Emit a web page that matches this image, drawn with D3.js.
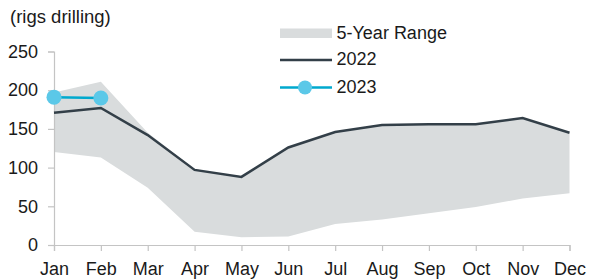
<!DOCTYPE html>
<html>
<head>
<meta charset="utf-8">
<script src="https://cdn.jsdelivr.net/npm/d3@7"></script>
<style>
  body { margin: 0; background: #fff; }
  text { font-family: "Liberation Sans", Arial, sans-serif; fill: #1a1a1a; }
</style>
</head>
<body>
<div id="chart"></div>
<script>
// data
let months = ["Jan", "Feb", "Mar", "Apr", "May", "Jun", "Jul", "Aug", "Sep", "Oct", "Nov", "Dec"]
let rangeHigh = [197, 211, 145, 98, 88, 126, 146, 155, 156, 156, 164, 145]
let rangeLow = [120, 113, 74, 17, 10, 11, 27, 33, 41, 49, 60, 67]
let y2022 = [171, 177, 142, 97, 88, 126, 146, 155, 156, 156, 164, 145]
let y2023 = [191, 190]
let yTicks = [0, 50, 100, 150, 200, 250]

let width = 589;
let height = 280;

let svg = d3.select("#chart").append("svg")
    .attr("width", width)
    .attr("height", height);

let x = d3.scalePoint()
    .domain(months)
    .range([54, 569.5]);

let y = d3.scaleLinear()
    .domain([0, 250])
    .range([245, 51.5]);

// 5 year range
let area = d3.area()
    .x((d, i) => x(months[i]))
    .y0((d, i) => y(rangeLow[i]))
    .y1(d => y(d));

svg.append("path")
    .datum(rangeHigh)
    .attr("d", area)
    .attr("fill", "#d9dcdd");

// axes
let yAxis = svg.append("g")
    .attr("transform", "translate(54,0)")
    .call(d3.axisLeft(y).tickValues(yTicks).tickSize(6).tickPadding(10));

let xAxis = svg.append("g")
    .attr("transform", "translate(0,245)")
    .call(d3.axisBottom(x).tickSize(6).tickPadding(11.5));

[yAxis, xAxis].forEach(a => {
    a.select(".domain").attr("stroke", "#c4c4c4").attr("stroke-width", 1.2);
    a.selectAll(".tick line").attr("stroke", "#c4c4c4").attr("stroke-width", 1.2);
    a.selectAll("text")
        .attr("font-size", 18)
        .attr("font-family", "Liberation Sans, Arial, sans-serif")
        .attr("fill", "#1a1a1a");
});

let line = d3.line()
    .x((d, i) => x(months[i]))
    .y(d => y(d));

// 2022
svg.append("path")
    .datum(y2022)
    .attr("d", line)
    .attr("fill", "none")
    .attr("stroke", "#333f48")
    .attr("stroke-width", 2.5);

// 2023
svg.append("path")
    .datum(y2023)
    .attr("d", line)
    .attr("fill", "none")
    .attr("stroke", "#00a9ce")
    .attr("stroke-width", 2.5);

svg.selectAll(".dot")
    .data(y2023)
    .join("circle")
    .attr("cx", (d, i) => x(months[i]))
    .attr("cy", d => y(d))
    .attr("r", 7.5)
    .attr("fill", "#5bc8e8");

// title
svg.append("text")
    .attr("x", 10)
    .attr("y", 23.3)
    .attr("font-size", 18.5)
    .text("(rigs drilling)");

// legend
let legend = svg.append("g");

legend.append("rect")
    .attr("x", 280).attr("y", 28.5)
    .attr("width", 52).attr("height", 9.5)
    .attr("fill", "#d9dcdd");

legend.append("line")
    .attr("x1", 280).attr("x2", 332)
    .attr("y1", 60).attr("y2", 60)
    .attr("stroke", "#333f48").attr("stroke-width", 2.5);

legend.append("line")
    .attr("x1", 280).attr("x2", 332)
    .attr("y1", 87.5).attr("y2", 87.5)
    .attr("stroke", "#00a9ce").attr("stroke-width", 2.5);

legend.append("circle")
    .attr("cx", 305).attr("cy", 87.5).attr("r", 7)
    .attr("fill", "#5bc8e8");

let labels = ["5-Year Range", "2022", "2023"]
legend.selectAll(".lab")
    .data(labels)
    .join("text")
    .attr("x", 336.5)
    .attr("y", (d, i) => [38.5, 65.2, 92.8][i])
    .attr("font-size", 18)
    .text(d => d);
</script>
</body>
</html>
